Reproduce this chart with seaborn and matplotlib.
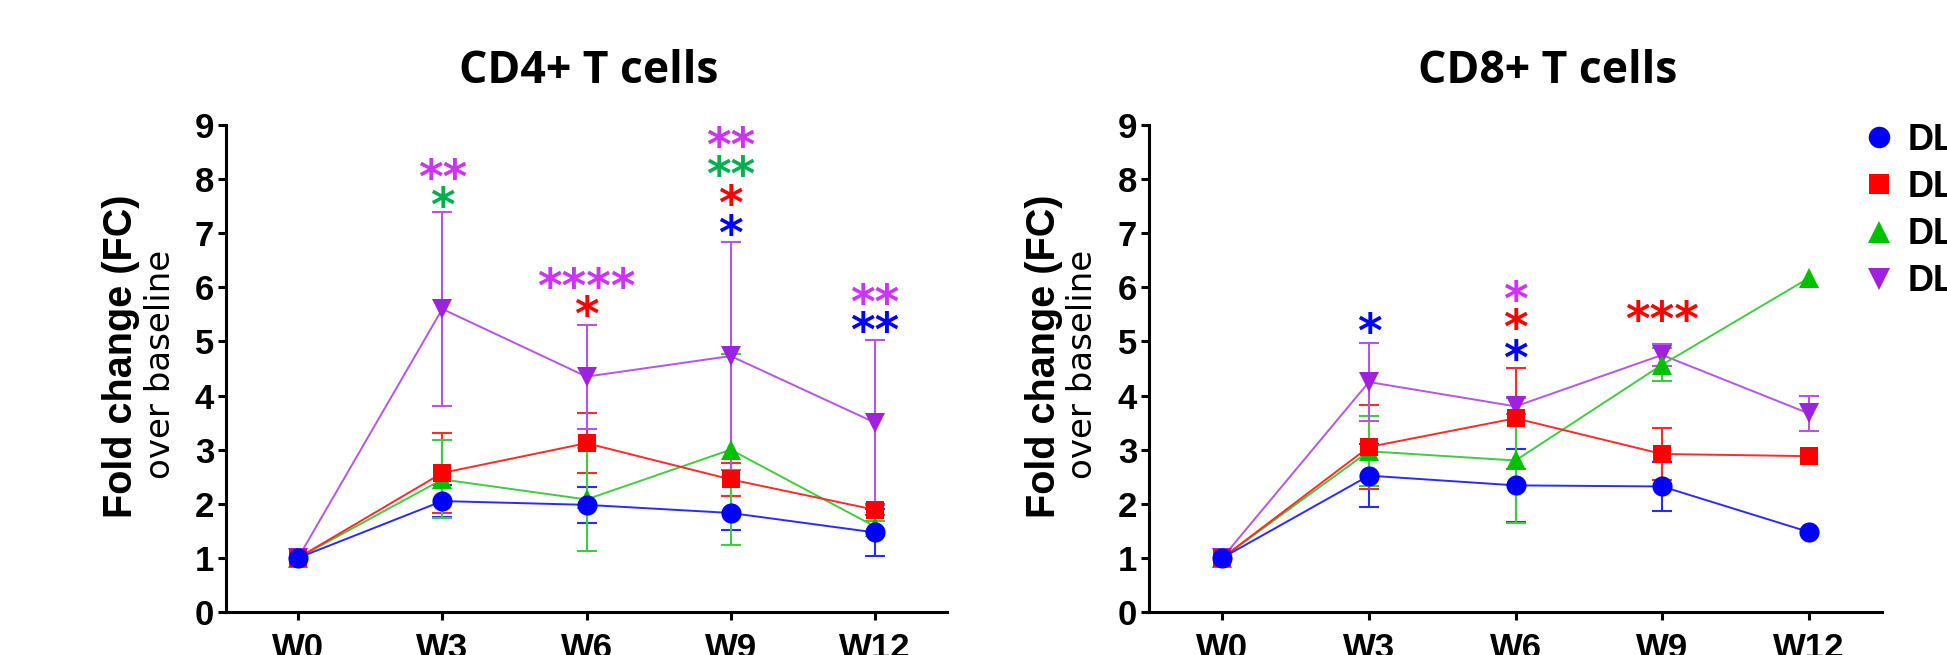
import numpy as np
import pandas as pd
import matplotlib
matplotlib.use('Agg')
import matplotlib.pyplot as plt
from matplotlib.lines import Line2D
import seaborn as sns

# time points
weeks = ['W0', 'W3', 'W6', 'W9', 'W12']
groups = ['g1', 'g2', 'g3', 'g4']           # blue, red, green, purple
legend_labels = ['DL', 'DL', 'DL', 'DL']

# CD4+ T cells: mean fold change and error
cd4_blue = [1.0, 2.05, 1.98, 1.83, 1.47]
cd4_blue_err = [0, 0.30, 0.33, 0.32, 0.44]
cd4_red = [1.0, 2.57, 3.12, 2.45, 1.89]
cd4_red_err = [0, 0.74, 0.55, 0.30, 0.10]
cd4_green = [1.0, 2.45, 2.08, 3.00, 1.58]
cd4_green_err = [0, 0.72, 0.96, 1.76, 0.10]
cd4_purple = [1.0, 5.60, 4.35, 4.73, 3.50]
cd4_purple_err = [0, 1.80, 0.96, 2.10, 1.52]

# CD8+ T cells
cd8_blue = [1.0, 2.52, 2.34, 2.32, 1.48]
cd8_blue_err = [0, 0.58, 0.68, 0.45, 0]
cd8_red = [1.0, 3.05, 3.58, 2.92, 2.88]
cd8_red_err = [0, 0.78, 0.93, 0.48, 0]
cd8_green = [1.0, 2.97, 2.80, 4.57, 6.17]
cd8_green_err = [0, 0.65, 1.15, 0.30, 0]
cd8_purple = [1.0, 4.25, 3.80, 4.75, 3.67]
cd8_purple_err = [0, 0.72, 0.15, 0.20, 0.32]

# significance stars (week index, height, text, group)
cd4_star_x = [1, 1, 2, 2, 3, 3, 3, 3, 4, 4]
cd4_star_y = [8.24, 7.71, 6.21, 5.70, 8.83, 8.29, 7.75, 7.19, 5.92, 5.40]
cd4_star_txt = ['**', '*', '****', '*', '**', '**', '*', '*', '**', '**']
cd4_star_grp = ['g4', 'g3', 'g4', 'g2', 'g4', 'g3', 'g2', 'g1', 'g4', 'g1']

cd8_star_x = [1, 2, 2, 2, 3]
cd8_star_y = [5.38, 5.97, 5.45, 4.88, 5.60]
cd8_star_txt = ['*', '*', '*', '*', '***']
cd8_star_grp = ['g1', 'g4', 'g2', 'g1', 'g2']

marker_colors = {'g1': '#0000FF', 'g2': '#FF0000', 'g3': '#00C000', 'g4': '#A020E0'}
line_colors = {'g1': '#2A2AFF', 'g2': '#FF2A2A', 'g3': '#40CC40', 'g4': '#B455E8'}
star_colors = {'g1': '#0000FF', 'g2': '#FF0000', 'g3': '#00B050', 'g4': '#CC33FF'}
markers = {'g1': 'o', 'g2': 's', 'g3': '^', 'g4': 'v'}
msizes = {'g1': 14.5, 'g2': 13.5, 'g3': 15, 'g4': 15}

sns.set_style('ticks')
plt.rcParams['font.family'] = ['Liberation Sans', 'DejaVu Sans']
plt.rcParams['text.color'] = 'black'
plt.rcParams['xtick.color'] = 'black'
plt.rcParams['ytick.color'] = 'black'
plt.rcParams['axes.edgecolor'] = 'black'

fig = plt.figure(figsize=(19.47, 6.55), dpi=100)
W, H = 1947, 655


def make_axes(x0, x1, y_top=125, y_bot=612):
    return fig.add_axes([x0 / W, 1 - y_bot / H, (x1 - x0) / W, (y_bot - y_top) / H])


def draw_panel(ax, means, errs, star_x, star_y, star_txt, star_grp):
    rows = []
    for g, m in zip(groups, means):
        for i, v in enumerate(m):
            rows.append({'week': i, 'fc': v, 'group': g})
    df = pd.DataFrame(rows)

    # error bars first (behind markers)
    for g, m, e in zip(groups, means, errs):
        m = np.array(m)
        e = np.array(e)
        keep = e > 0
        ax.errorbar(np.arange(len(m))[keep], m[keep], yerr=e[keep], fmt='none',
                    ecolor=line_colors[g], elinewidth=1.5, capsize=7, capthick=1.5,
                    zorder=1.5)

    # draw order: purple, green, red, blue on top
    for g in ['g4', 'g3', 'g2', 'g1']:
        sub = df[df['group'] == g]
        sns.lineplot(data=sub, x='week', y='fc', ax=ax, color=line_colors[g],
                     marker=markers[g], markersize=msizes[g], markeredgewidth=0,
                     markerfacecolor=marker_colors[g],
                     linewidth=1.4, legend=False, zorder=2)

    for x, y, t, g in zip(star_x, star_y, star_txt, star_grp):
        ax.annotate(t, xy=(x, y), xytext=(0, -19), textcoords='offset points',
                    ha='center', va='baseline', fontsize=34, fontweight='bold',
                    family='DejaVu Sans', color=star_colors[g])

    ax.set_xlim(-0.5, 4.5)
    ax.set_ylim(0, 9)
    ax.set_yticks(range(10))
    ax.set_xticks(range(len(weeks)))
    ax.set_xticklabels(weeks)
    ax.set_xlabel('')
    ax.set_ylabel('')
    for side in ['top', 'right']:
        ax.spines[side].set_visible(False)
    for side in ['left', 'bottom']:
        ax.spines[side].set_linewidth(2.2)
        ax.spines[side].set_color('black')
    ax.tick_params(axis='both', width=2.2, length=5.5, color='black',
                   labelcolor='black')
    ax.tick_params(axis='y', pad=3, labelsize=25)
    ax.tick_params(axis='x', pad=9, labelsize=25)
    for lab in ax.get_xticklabels() + ax.get_yticklabels():
        lab.set_fontweight('bold')


ax1 = make_axes(226, 947)
draw_panel(ax1,
           [cd4_blue, cd4_red, cd4_green, cd4_purple],
           [cd4_blue_err, cd4_red_err, cd4_green_err, cd4_purple_err],
           cd4_star_x, cd4_star_y, cd4_star_txt, cd4_star_grp)

ax2 = make_axes(1149, 1882)
draw_panel(ax2,
           [cd8_blue, cd8_red, cd8_green, cd8_purple],
           [cd8_blue_err, cd8_red_err, cd8_green_err, cd8_purple_err],
           cd8_star_x, cd8_star_y, cd8_star_txt, cd8_star_grp)

# titles
fig.text(589 / W, 1 - 83 / H, 'CD4+ T cells', ha='center', va='baseline',
         fontsize=32, fontweight='bold', family='Open Sans', color='black')
fig.text(1548 / W, 1 - 83 / H, 'CD8+ T cells', ha='center', va='baseline',
         fontsize=32, fontweight='bold', family='Open Sans', color='black')

# y labels
for axis_x in [226, 1149]:
    fig.text((axis_x - 105) / W, 1 - 356 / H, 'Fold change (FC)', rotation=90,
             ha='center', va='center', fontsize=28.5, fontweight='bold')
    fig.text((axis_x - 66) / W, 1 - 364 / H, 'over baseline', rotation=90,
             ha='center', va='center', fontsize=24.5, family='DejaVu Sans')

# legend
handles = [Line2D([], [], linestyle='none', marker=markers[g], color=marker_colors[g],
                  markersize=msizes[g] + 1, markeredgewidth=0) for g in groups]
fig.legend(handles, legend_labels, loc='upper left',
           bbox_to_anchor=(1866 / W, 1 - 123 / H), frameon=False,
           borderpad=0, borderaxespad=0, handlelength=0.72, handletextpad=0.42,
           labelspacing=0.335, prop={'size': 26, 'weight': 'bold'})

fig.savefig('out.png', dpi=100)
